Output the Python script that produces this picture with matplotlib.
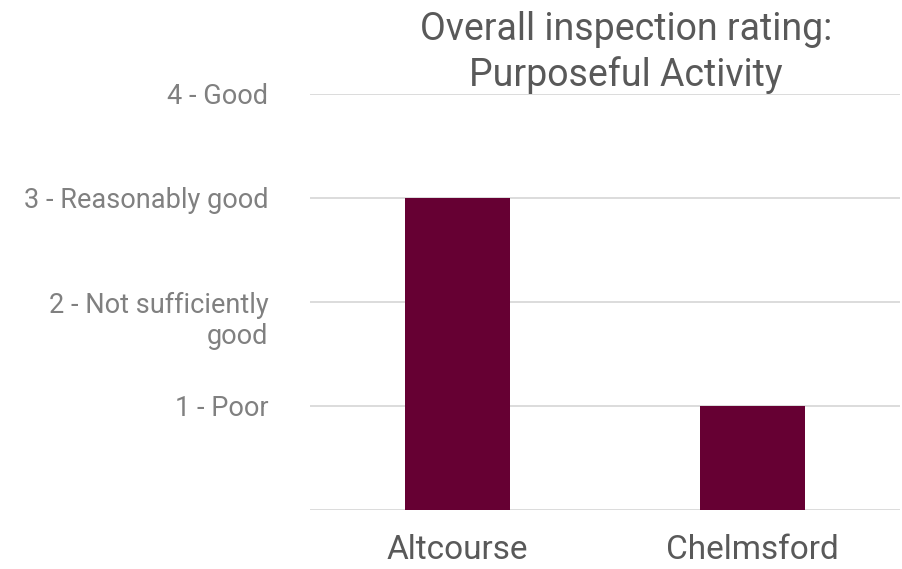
import numpy as np
import matplotlib
matplotlib.use('Agg')
import matplotlib.pyplot as plt

# Chart data
prisons = ['Altcourse', 'Chelmsford']
ratings = [3, 1]
rating_ticks = [0, 1, 2, 3, 4]
rating_labels = ['', '1 - Poor', '2 - Not sufficiently', '3 - Reasonably good', '4 - Good']

plt.rcParams['font.family'] = ['Roboto', 'DejaVu Sans']

fig = plt.figure(figsize=(9.03, 5.69), dpi=100)
ax = fig.add_axes([0.3433, 0.1037, 0.653, 0.7311])

x = np.arange(len(prisons))
ax.bar(x, ratings, width=0.356, color='#660033', zorder=3)

ax.set_xlim(-0.5, 1.5)
ax.set_ylim(0, 4)
ax.set_yticks(rating_ticks)
ax.set_yticklabels(rating_labels, fontsize=19.5, color='#808080')
ax.set_xticks(x)
ax.set_xticklabels(prisons, fontsize=24, color='#595959')

# second line of the wrapped "2" label
ax.annotate('good', xy=(0, 2), xycoords=('axes fraction', 'data'),
            xytext=(-30, -25), textcoords='offset points',
            ha='right', va='center', fontsize=19.5, color='#808080')

ax.yaxis.grid(True, color='#d9d9d9', linewidth=1.3, zorder=0)
ax.tick_params(axis='both', length=0)
ax.tick_params(axis='y', pad=30)
ax.tick_params(axis='x', pad=17)
for s in ax.spines.values():
    s.set_visible(False)

fig.text(0.693, 0.98, 'Overall inspection rating:\nPurposeful Activity', ha='center', va='top',
         fontsize=27, color='#595959', linespacing=1.25)

fig.savefig('out.png', dpi=100)
